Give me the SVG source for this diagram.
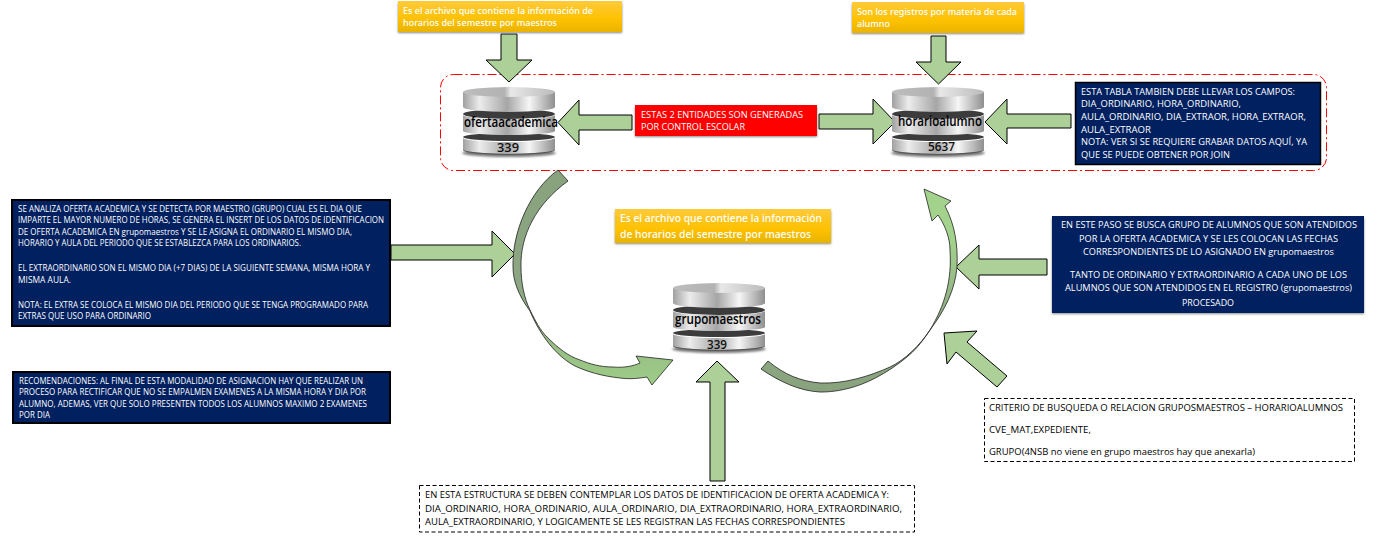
<svg xmlns="http://www.w3.org/2000/svg" width="1376" height="536" viewBox="0 0 1376 536">
<style>
text{font-family:"Open Sans","Noto Sans","Liberation Sans",sans-serif;font-size:8.6px;font-weight:500}
.w text{fill:#fff}
.k text{fill:#000}
.y text{font-family:"Noto Sans","Open Sans",sans-serif;font-size:9.6px;fill:#fff}
.n{fill:#002060;stroke:#000;stroke-width:2}
.nb{fill:#002060}
.d{fill:#fff;stroke:#000;stroke-width:1;stroke-dasharray:4 2.5}
.a{fill:#acd098;stroke:#000;stroke-width:1}
.db{font-size:13.5px;font-weight:600;fill:#000}
.num{font-size:13px;fill:#111}
</style>
<defs>
<linearGradient id="yg" x1="0" y1="0" x2="0" y2="1"><stop offset="0" stop-color="#ffca3a"/><stop offset="0.6" stop-color="#fdc100"/><stop offset="1" stop-color="#e8b300"/></linearGradient>
<linearGradient id="cg" x1="0" y1="0" x2="1" y2="0"><stop offset="0" stop-color="#a0a0a0"/><stop offset="0.18" stop-color="#ececec"/><stop offset="0.48" stop-color="#a6a6a6"/><stop offset="0.72" stop-color="#f6f6f6"/><stop offset="1" stop-color="#8f8f8f"/></linearGradient>
<linearGradient id="ct" x1="0" y1="0" x2="1" y2="0"><stop offset="0" stop-color="#bdbdbd"/><stop offset="0.45" stop-color="#b2b2b2"/><stop offset="0.52" stop-color="#e8e8e8"/><stop offset="1" stop-color="#bbbbbb"/></linearGradient>
<linearGradient id="c1" x1="0" y1="0" x2="0" y2="1"><stop offset="0" stop-color="#88a27e"/><stop offset="0.55" stop-color="#8da683"/><stop offset="1" stop-color="#9ecd86"/></linearGradient>
<linearGradient id="c2" x1="0" y1="1" x2="0" y2="0"><stop offset="0" stop-color="#88a27e"/><stop offset="0.4" stop-color="#8fae82"/><stop offset="0.75" stop-color="#a3d28c"/></linearGradient>
<filter id="sh" x="-5%" y="-20%" width="110%" height="150%"><feGaussianBlur stdDeviation="1"/></filter>
<g id="cyl">
<ellipse cx="46" cy="66" rx="47" ry="4" fill="#777" filter="url(#sh)"/>
<ellipse cx="46" cy="50" rx="46" ry="4" fill="#3c3c3c"/>
<path d="M0,51A46,4 0 0 0 92,51V62A46,5 0 0 1 0,62Z" fill="url(#cg)"/>
<path d="M0,62A46,5 0 0 0 92,62V63A46,5 0 0 1 0,63Z" fill="#555"/>
<ellipse cx="46" cy="27" rx="46" ry="5" fill="#3c3c3c"/>
<path d="M0,28A46,4 0 0 0 92,28V44A46,4 0 0 1 0,44Z" fill="url(#cg)"/>
<path d="M0,5V20A46,5 0 0 0 92,20V5Z" fill="url(#cg)"/>
<ellipse cx="46" cy="5" rx="46" ry="5" fill="url(#ct)"/>
</g>
</defs>
<rect width="1376" height="536" fill="#fff"/>
<rect id="grupo-control" x="440.500" y="74.500" width="886" height="96" rx="13" fill="none" stroke="#f00" stroke-width="1" stroke-dasharray="9 3 2 3"/>
<g id="connectors">
<polygon class="a" points="501,34 517,34 517,60 532,60 509,82 486,60 501,60"/>
<polygon class="a" points="931,36 946,36 946,62 961,62 938.500,84 916,62 931,62"/>
<polygon class="a" points="632,115 579,115 579,100 558,122.500 579,145 579,130 632,130"/>
<polygon class="a" points="819,114 873,114 873,99 895,122 873,144 873,129 819,129"/>
<polygon class="a" points="1071,114 1007,114 1007,99 985,122 1007,144 1007,128 1071,128"/>
<polygon class="a" points="391,245 492,245 492,231 515,254 492,277 492,260 391,260"/>
<polygon class="a" points="725,481 725,382 739,382 717,361 696,382 710,382 710,481"/>
<polygon class="a" points="1047,259 979,259 979,245 956,267 979,289 979,275 1047,275"/>
<polygon class="a" points="1007,376 967,342 977,331 944,333 947,364 956,352 997,387"/>
<path fill="url(#c1)" stroke="#222" stroke-width="0.8" d="M558,170L568,181C536,204 520,236 521,267C521,282 524,298 530,310C536,322 540,330 547,337C558,348 568,356 580,360C590,364 600,367 613,367C625,368 633,366 640,363L636,356L673,360L652,385L647,377C635,379 628,379 620,378C602,376 588,372 575,366C556,356 540,335 530,311C518,295 513,280 513,267C512,232 530,190 558,170Z"/>
<path fill="url(#c2)" stroke="#222" stroke-width="0.8" d="M768,361C785,375 800,381 820,383C845,384 870,376 890,367C905,360 920,345 930,330C945,305 952,280 950,250C950,238 945,225 938,215L932,221L924,189L951,201L945,206C955,225 958,245 957,267C955,290 945,310 930,330C920,345 915,350 907,357C885,375 865,384 850,388C835,392 825,392 820,392C800,391 780,382 761,369Z"/>
</g>
<g id="info-ofertaacademica" class="y">
<rect x="398" y="3" width="224" height="30" fill="#888" filter="url(#sh)"/>
<rect x="398" y="1" width="224" height="31" fill="url(#yg)"/>
<text x="403" y="14" textLength="190" lengthAdjust="spacingAndGlyphs">Es el archivo que contiene la información de</text>
<text x="403" y="26" textLength="154" lengthAdjust="spacingAndGlyphs">horarios del semestre por maestros</text>
</g>
<g id="info-horarioalumno" class="y">
<rect x="852" y="4" width="172" height="30" fill="#888" filter="url(#sh)"/>
<rect x="852" y="2" width="172" height="31" fill="url(#yg)"/>
<text x="857" y="15" textLength="160" lengthAdjust="spacingAndGlyphs">Son los registros por materia de cada</text>
<text x="857" y="27" textLength="33" lengthAdjust="spacingAndGlyphs">alumno</text>
</g>
<g id="info-grupomaestros" class="y">
<rect x="615" y="211" width="216" height="33" fill="#888" filter="url(#sh)"/>
<rect x="615" y="209" width="216" height="34" fill="url(#yg)"/>
<text x="620" y="222" textLength="202" lengthAdjust="spacingAndGlyphs" style="font-size:10.500px">Es el archivo que contiene la información</text>
<text x="620" y="238" textLength="191" lengthAdjust="spacingAndGlyphs" style="font-size:10.500px">de horarios del semestre por maestros</text>
</g>
<g id="ofertaacademica">
<use href="#cyl" x="463" y="87"/>
<text class="db" x="464" y="127" textLength="94" lengthAdjust="spacingAndGlyphs">ofertaacademica</text>
<text class="db num" x="497" y="152" textLength="22" lengthAdjust="spacingAndGlyphs">339</text>
</g>
<g id="horarioalumno">
<use href="#cyl" x="892" y="87"/>
<text class="db" x="898" y="126" textLength="84" lengthAdjust="spacingAndGlyphs">horarioalumno</text>
<text class="db num" x="928" y="151" textLength="27" lengthAdjust="spacingAndGlyphs">5637</text>
</g>
<g id="grupomaestros">
<use href="#cyl" x="673" y="283"/>
<text class="db" x="675" y="324" textLength="86" lengthAdjust="spacingAndGlyphs">grupomaestros</text>
<text class="db num" x="707" y="349" textLength="20" lengthAdjust="spacingAndGlyphs">339</text>
</g>
<g id="control-escolar" class="w">
<rect x="635" y="107" width="182" height="30" fill="#888" filter="url(#sh)"/>
<rect x="635" y="105" width="182" height="31" fill="#f00"/>
<text x="641" y="118" textLength="162" lengthAdjust="spacingAndGlyphs" style="font-size:9.200px">ESTAS 2 ENTIDADES SON GENERADAS</text>
<text x="641" y="130" textLength="104" lengthAdjust="spacingAndGlyphs" style="font-size:9.200px">POR CONTROL ESCOLAR</text>
</g>
<g id="nota-horarioalumno" class="w">
<rect class="n" x="1075.500" y="82.500" width="245" height="82" style="stroke-width:1.500px"/>
<text x="1081" y="95" textLength="214" lengthAdjust="spacingAndGlyphs">ESTA TABLA TAMBIEN DEBE LLEVAR LOS CAMPOS:</text>
<text x="1081" y="107" textLength="160" lengthAdjust="spacingAndGlyphs">DIA_ORDINARIO, HORA_ORDINARIO,</text>
<text x="1081" y="120" textLength="225" lengthAdjust="spacingAndGlyphs">AULA_ORDINARIO, DIA_EXTRAOR, HORA_EXTRAOR,</text>
<text x="1081" y="133" textLength="70" lengthAdjust="spacingAndGlyphs">AULA_EXTRAOR</text>
<text x="1081" y="145" textLength="226" lengthAdjust="spacingAndGlyphs">NOTA: VER SI SE REQUIERE GRABAR DATOS AQUÍ, YA</text>
<text x="1081" y="158" textLength="149" lengthAdjust="spacingAndGlyphs">QUE SE PUEDE OBTENER POR JOIN</text>
</g>
<g id="analisis" class="w">
<rect class="n" x="12" y="200" width="378" height="126"/>
<text x="18" y="212" textLength="344" lengthAdjust="spacingAndGlyphs">SE ANALIZA OFERTA ACADEMICA Y SE DETECTA POR MAESTRO (GRUPO) CUAL ES EL DIA QUE</text>
<text x="18" y="223" textLength="366" lengthAdjust="spacingAndGlyphs">IMPARTE EL MAYOR NUMERO DE HORAS, SE GENERA EL INSERT DE LOS DATOS DE IDENTIFICACION</text>
<text x="18" y="235" textLength="334" lengthAdjust="spacingAndGlyphs">DE OFERTA ACADEMICA EN grupomaestros Y SE LE ASIGNA EL ORDINARIO EL MISMO DIA,</text>
<text x="18" y="246" textLength="283" lengthAdjust="spacingAndGlyphs">HORARIO Y AULA DEL PERIODO QUE SE ESTABLEZCA PARA LOS ORDINARIOS.</text>
<text x="18" y="271" textLength="352" lengthAdjust="spacingAndGlyphs">EL EXTRAORDINARIO SON EL MISMO DIA (+7 DIAS) DE LA SIGUIENTE SEMANA, MISMA HORA Y</text>
<text x="18" y="283" textLength="53" lengthAdjust="spacingAndGlyphs">MISMA AULA.</text>
<text x="18" y="308" textLength="350" lengthAdjust="spacingAndGlyphs">NOTA: EL EXTRA SE COLOCA EL MISMO DIA DEL PERIODO QUE SE TENGA PROGRAMADO PARA</text>
<text x="18" y="319" textLength="133" lengthAdjust="spacingAndGlyphs">EXTRAS QUE USO PARA ORDINARIO</text>
</g>
<g id="recomendaciones" class="w">
<rect class="n" x="13" y="372" width="377" height="51"/>
<text x="19" y="384" textLength="344" lengthAdjust="spacingAndGlyphs">RECOMENDACIONES: AL FINAL DE ESTA MODALIDAD DE ASIGNACION HAY QUE REALIZAR UN</text>
<text x="19" y="395" textLength="347" lengthAdjust="spacingAndGlyphs">PROCESO PARA RECTIFICAR QUE NO SE EMPALMEN EXAMENES A LA MISMA HORA Y DIA POR</text>
<text x="19" y="407" textLength="348" lengthAdjust="spacingAndGlyphs">ALUMNO, ADEMAS, VER QUE SOLO PRESENTEN TODOS LOS ALUMNOS MAXIMO 2 EXAMENES</text>
<text x="19" y="418" textLength="31" lengthAdjust="spacingAndGlyphs">POR DIA</text>
</g>
<g id="paso-busqueda" class="w">
<rect x="1052" y="218" width="312" height="96" fill="#888" filter="url(#sh)"/>
<rect class="nb" x="1052" y="216" width="312" height="97"/>
<text x="1061" y="228" textLength="296" lengthAdjust="spacingAndGlyphs">EN ESTE PASO SE BUSCA GRUPO DE ALUMNOS QUE SON ATENDIDOS</text>
<text x="1079" y="242" textLength="259" lengthAdjust="spacingAndGlyphs">POR LA OFERTA ACADEMICA Y SE LES COLOCAN LAS FECHAS</text>
<text x="1083" y="255" textLength="251" lengthAdjust="spacingAndGlyphs">CORRESPONDIENTES DE LO ASIGNADO EN grupomaestros</text>
<text x="1070" y="278" textLength="277" lengthAdjust="spacingAndGlyphs">TANTO DE ORDINARIO Y EXTRAORDINARIO A CADA UNO DE LOS</text>
<text x="1065" y="291" textLength="287" lengthAdjust="spacingAndGlyphs">ALUMNOS QUE SON ATENDIDOS EN EL REGISTRO (grupomaestros)</text>
<text x="1182" y="306" textLength="52" lengthAdjust="spacingAndGlyphs">PROCESADO</text>
</g>
<g id="criterio" class="k">
<rect class="d" x="984.500" y="398.500" width="370" height="63"/>
<text x="989" y="411" textLength="354" lengthAdjust="spacingAndGlyphs">CRITERIO DE BUSQUEDA O RELACION GRUPOSMAESTROS – HORARIOALUMNOS</text>
<text x="989" y="433" textLength="102" lengthAdjust="spacingAndGlyphs">CVE_MAT,EXPEDIENTE,</text>
<text x="989" y="455" textLength="266" lengthAdjust="spacingAndGlyphs">GRUPO(4NSB no viene en grupo maestros hay que anexarla)</text>
</g>
<g id="estructura" class="k">
<rect class="d" x="419.500" y="485.500" width="495" height="46.500"/>
<text x="425" y="498" textLength="464" lengthAdjust="spacingAndGlyphs">EN ESTA ESTRUCTURA SE DEBEN CONTEMPLAR LOS DATOS DE IDENTIFICACION DE OFERTA ACADEMICA Y:</text>
<text x="425" y="512" textLength="477" lengthAdjust="spacingAndGlyphs">DIA_ORDINARIO, HORA_ORDINARIO, AULA_ORDINARIO, DIA_EXTRAORDINARIO, HORA_EXTRAORDINARIO,</text>
<text x="425" y="525" textLength="420" lengthAdjust="spacingAndGlyphs">AULA_EXTRAORDINARIO, Y LOGICAMENTE SE LES REGISTRAN LAS FECHAS CORRESPONDIENTES</text>
</g>
</svg>
